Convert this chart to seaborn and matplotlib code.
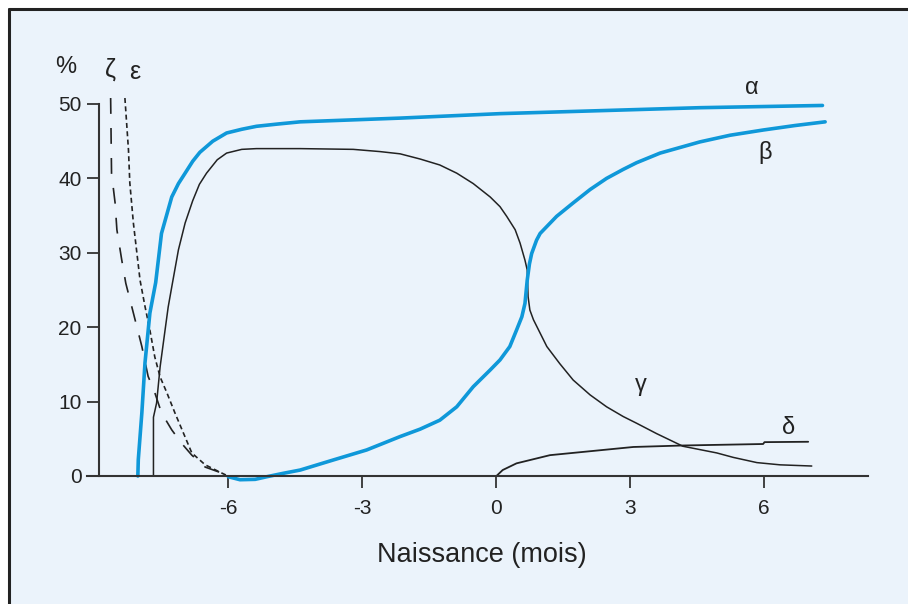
import numpy as np
import pandas as pd
import matplotlib
matplotlib.use("Agg")
import matplotlib.pyplot as plt
from matplotlib.patches import Rectangle
from matplotlib.lines import Line2D
import seaborn as sns

# ---- data (months relative to birth, % of total haemoglobin chains) ----
alpha_x = [-8.03, -8.02, -7.94, -7.87, -7.76, -7.63, -7.50, -7.27, -7.12, -6.97, -6.80, -6.64, -6.35, -6.04, -5.70, -5.37, -4.90, -4.39, -2.15, 0.09, 2.33, 4.57, 7.32]
alpha_y = [0.0, 2.2, 8.5, 15.2, 21.9, 26.0, 32.6, 37.5, 39.3, 40.7, 42.3, 43.5, 45.0, 46.1, 46.6, 47.0, 47.3, 47.6, 48.1, 48.7, 49.1, 49.5, 49.8]

beta_x = [-6.00, -5.74, -5.40, -5.14, -4.77, -4.39, -3.65, -2.90, -2.15, -1.70, -1.26, -0.88, -0.51, -0.13, 0.09, 0.31, 0.46, 0.58, 0.65, 0.70, 0.75, 0.80, 0.91, 0.99, 1.36, 1.73, 2.11, 2.48, 2.85, 3.15, 3.68, 4.57, 5.25, 5.99, 6.70, 7.38]
beta_y = [-0.1, -0.5, -0.45, -0.1, 0.36, 0.8, 2.15, 3.5, 5.3, 6.3, 7.5, 9.3, 12.0, 14.25, 15.6, 17.4, 19.6, 21.4, 23.2, 26.3, 28.5, 29.9, 31.7, 32.6, 34.9, 36.7, 38.5, 40.0, 41.2, 42.1, 43.4, 44.9, 45.8, 46.5, 47.1, 47.6]

gamma_x = [-7.68, -7.68, -7.61, -7.53, -7.42, -7.35, -7.27, -7.12, -6.97, -6.80, -6.65, -6.49, -6.25, -6.04, -5.70, -5.37, -4.39, -3.20, -2.60, -2.15, -1.70, -1.26, -0.88, -0.51, -0.13, 0.09, 0.24, 0.43, 0.54, 0.65, 0.70, 0.72, 0.76, 0.84, 0.99, 1.14, 1.43, 1.73, 2.11, 2.48, 2.85, 3.15, 3.60, 4.19, 4.95, 5.32, 5.85, 6.37, 7.08]
gamma_y = [0.0, 7.9, 9.8, 14.7, 19.6, 22.7, 25.4, 30.4, 34.0, 37.0, 39.2, 40.7, 42.5, 43.4, 43.9, 44.0, 44.0, 43.9, 43.6, 43.3, 42.6, 41.8, 40.7, 39.3, 37.5, 36.2, 34.9, 33.1, 31.3, 29.0, 27.7, 24.1, 22.3, 21.0, 19.2, 17.4, 15.1, 12.9, 10.9, 9.3, 8.0, 7.1, 5.7, 4.0, 3.1, 2.5, 1.8, 1.5, 1.34]

delta_x = [0.01, 0.15, 0.46, 1.21, 3.08, 4.19, 5.99, 6.02, 7.00]
delta_y = [0.0, 0.8, 1.7, 2.8, 3.9, 4.1, 4.3, 4.55, 4.6]

epsilon_x = [-8.32, -8.24, -8.21, -8.13, -8.06, -7.98, -7.87, -7.76, -7.65, -7.53, -7.38, -7.20, -7.01, -6.82, -6.52, -6.15, -6.01]
epsilon_y = [50.8, 43.8, 39.4, 34.0, 30.4, 26.3, 22.8, 19.6, 16.0, 13.3, 11.2, 8.5, 5.8, 3.1, 1.5, 0.4, 0.0]

zeta_x = [-8.64, -8.62, -8.54, -8.50, -8.39, -8.30, -8.13, -7.94, -7.80, -7.65, -7.50, -7.27, -7.05, -6.82, -6.52, -6.15, -5.96]
zeta_y = [50.8, 40.7, 36.7, 33.1, 29.0, 25.9, 21.9, 17.4, 13.4, 11.2, 8.5, 6.2, 4.4, 2.8, 1.2, 0.4, 0.0]

x_ticks = [-6, -3, 0, 3, 6]
y_ticks = [0, 10, 20, 30, 40, 50]
x_label = "Naissance (mois)"

# ---- style ----
sns.set_theme(style="white")
plt.rcParams['font.family'] = ['Liberation Sans', 'DejaVu Sans']

BG = "#EBF3FB"
BLUE = "#0F98D9"
INK = "#222222"

fig = plt.figure(figsize=(9.08, 6.04), dpi=100)
fig.patch.set_facecolor("white")
W, H = 908, 604
# panel background with dark left/top border
fig.patches.append(Rectangle((9 / W, 0), 1 - 9 / W, 1 - 9 / H, transform=fig.transFigure,
                             facecolor=BG, edgecolor="none", zorder=-10))
fig.lines.append(Line2D([9 / W, 9 / W], [0, 1 - 9 / H], transform=fig.transFigure, color=INK, lw=2.2, zorder=-5))
fig.lines.append(Line2D([9 / W, 1], [1 - 9 / H, 1 - 9 / H], transform=fig.transFigure, color=INK, lw=2.2, zorder=-5))

ax = fig.add_axes([87 / W, 114 / H, 781 / W, 430 / H])
ax.set_facecolor("none")
ax.set_zorder(1)

def line(x, y, **kw):
    df = pd.DataFrame({"x": x, "y": y})
    sns.lineplot(data=df, x="x", y="y", sort=False, estimator=None, ax=ax, clip_on=False, **kw)

line(gamma_x, gamma_y, color=INK, lw=1.1)
line(delta_x, delta_y, color=INK, lw=1.3)
line(zeta_x, zeta_y, color=INK, lw=1.2, linestyle=(0, (9.5, 8.5)))
line(epsilon_x, epsilon_y, color=INK, lw=1.2, linestyle=(0, (3, 2)))
line(alpha_x, alpha_y, color=BLUE, lw=2.6)
line(beta_x, beta_y, color=BLUE, lw=2.6)

ax.set_xlim(-9.170, 8.341)
ax.set_ylim(-1.882, 55.91)

for s in ["top", "right"]:
    ax.spines[s].set_visible(False)
ax.spines["left"].set_position(("data", -8.90))
ax.spines["left"].set_bounds(0, 50)
ax.spines["bottom"].set_position(("data", 0))
for s in ["left", "bottom"]:
    ax.spines[s].set_color("#333333")
    ax.spines[s].set_linewidth(1.5)

ax.set_xticks(x_ticks)
ax.set_xticklabels([str(t) for t in x_ticks])
ax.set_yticks(y_ticks)
ax.set_yticklabels([str(t) for t in y_ticks])
ax.tick_params(axis="both", which="both", direction="out", length=8.6, width=1.3,
               color="#333333", labelsize=15, labelcolor="#222222",
               bottom=True, left=True)
ax.tick_params(axis="x", pad=8)
ax.tick_params(axis="y", pad=4)
ax.set_xlabel("")
ax.set_ylabel("")

# text labels
def ftext(px, py, s, size=16, **kw):
    fig.text(px / W, 1 - py / H, s, fontsize=size, color="#222222", ha="center", va="center", **kw)

ftext(66, 67, "%", 17)
ftext(111, 70, "ζ", 18)
ftext(135, 72, "ε", 18)
ftext(752, 88, "α", 17)
ftext(765, 153, "β", 17)
ftext(641, 385, "γ", 17)
ftext(789, 428, "δ", 17)
ftext(482, 555, x_label, 19.5)

fig.savefig("out.png", dpi=100, facecolor=fig.get_facecolor())
